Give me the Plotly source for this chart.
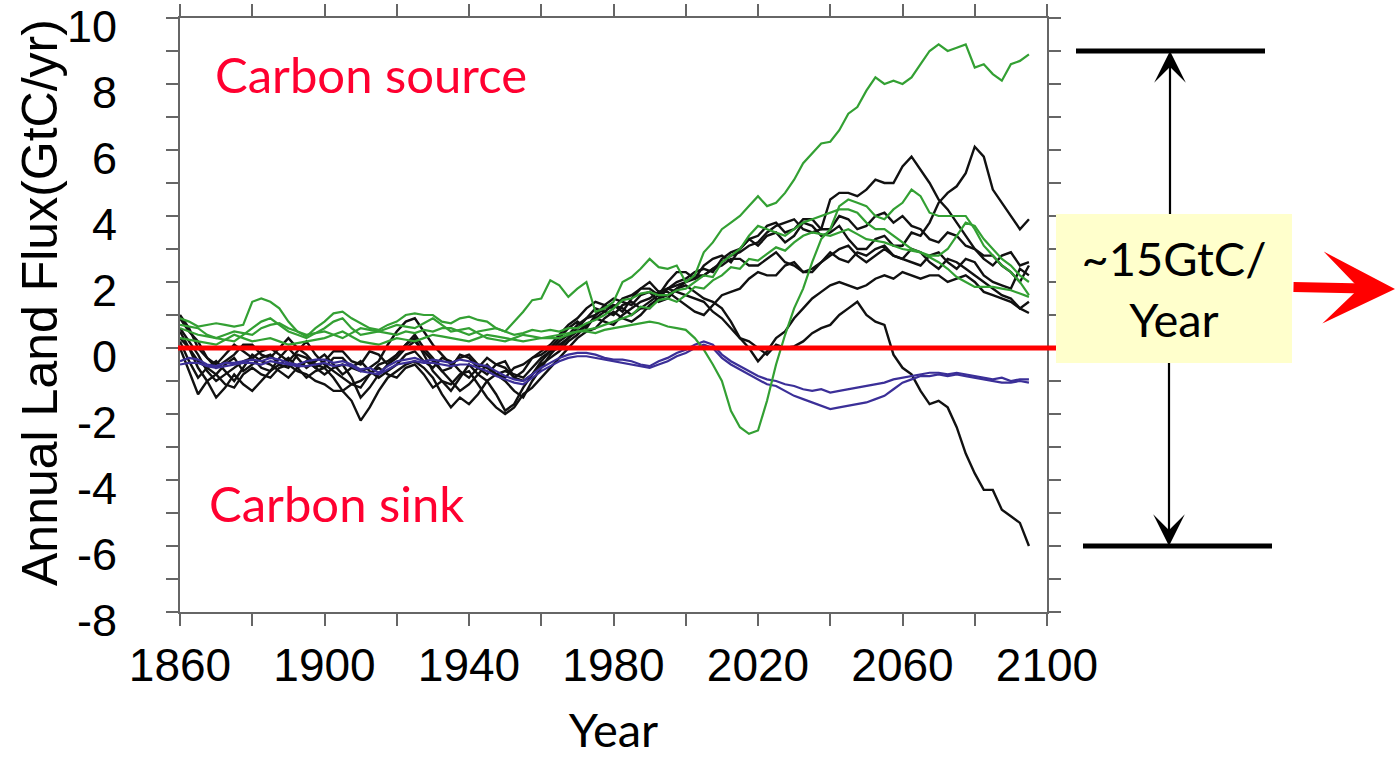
import plotly.graph_objects as go

# ---- data: annual land carbon flux (GtC/yr), sampled every 2.5 years ----
YEARS = [1860 + 2.5 * k for k in range(95)]  # 1860 ... 2095

# coupled models (black); each row covers 25 years
B1 = [0.3, 0.0, -0.4, -0.6, -0.8, -0.5, -0.3, -0.7, -0.5, -0.3,
      -0.2, -0.5, -0.6, -0.2, -0.3, -0.6, -0.4, -0.1, -0.1, -0.4,
      -0.5, -0.1, -0.2, -0.5, -0.3, 0.0, 0.2, -0.1, -0.4, -0.7,
      -0.6, -0.2, -0.3, -0.6, -0.8, -0.5, -0.4, -0.9, -0.7, -0.3,
      -0.2, 0.0, 0.3, 0.6, 0.8, 0.6, 1.0, 1.2, 1.3, 1.1,
      1.5, 1.8, 1.8, 1.6, 2.0, 2.3, 2.3, 2.1, 2.5, 2.7,
      2.8, 2.6, 3.0, 3.3, 3.1, 3.4, 3.5, 3.2, 3.4, 3.8,
      3.7, 3.4, 3.5, 3.7, 3.3, 3.0, 3.0, 3.3, 3.4, 3.1,
      3.1, 3.5, 3.4, 3.8, 4.4, 4.7, 4.9, 5.3, 6.1, 5.8,
      4.8, 4.4, 4.0, 3.6, 3.9]
B2 = [0.9, 0.5, 0.2, -0.3, -0.6, -0.4, -0.2, 0.1, 0.1, -0.2,
      -0.3, 0.0, 0.3, 0.0, -0.2, -0.5, -0.6, -0.3, -0.3, -0.6,
      -0.7, -0.6, -0.4, 0.1, 0.5, 0.8, 0.9, 0.5, 0.1, -0.2,
      -0.5, -0.3, -0.2, -0.5, -0.6, -0.8, -0.9, -0.6, -0.5, -0.3,
      -0.1, 0.1, 0.4, 0.7, 0.9, 1.2, 1.4, 1.3, 1.2, 1.5,
      1.6, 1.8, 2.0, 1.7, 1.8, 2.0, 2.1, 2.3, 2.4, 2.3,
      2.7, 2.9, 3.0, 3.3, 3.4, 3.7, 3.8, 3.5, 3.6, 3.9,
      3.9, 3.6, 3.6, 4.0, 3.9, 3.6, 3.7, 4.0, 4.1, 3.8,
      4.0, 3.7, 3.6, 3.3, 3.2, 3.5, 3.4, 3.1, 3.0, 2.7,
      2.5, 2.8, 2.9, 2.5, 2.6]
B3 = [0.0, -0.7, -1.4, -1.0, -0.8, -1.1, -1.2, -0.8, -0.6, -0.8,
      -0.9, -0.6, -0.5, -0.7, -0.8, -1.0, -1.1, -1.3, -1.3, -1.6,
      -2.2, -1.8, -1.3, -0.9, -0.7, -0.5, -0.4, -0.6, -0.9, -1.4,
      -1.8, -1.5, -1.7, -1.4, -1.0, -1.4, -1.9, -1.7, -1.2, -0.8,
      -0.4, -0.1, 0.2, 0.4, 0.7, 0.9, 1.0, 1.3, 1.5, 1.4,
      1.3, 1.6, 1.7, 1.4, 1.5, 1.8, 2.0, 2.2, 2.2, 2.4,
      2.5, 2.7, 2.7, 2.5, 2.5, 2.7, 2.9, 2.6, 2.5, 2.3,
      2.3, 2.6, 2.9, 2.7, 2.6, 2.9, 2.8, 3.0, 3.1, 2.8,
      2.7, 2.6, 2.5, 2.8, 2.9, 2.6, 2.4, 2.7, 2.6, 2.2,
      2.0, 1.9, 1.8, 2.4, 2.2]
B4 = [1.0, 0.6, 0.0, -0.3, -0.5, -0.2, 0.1, -0.1, -0.3, -0.6,
      -0.7, -0.3, 0.0, -0.3, -0.6, -0.4, -0.2, -0.5, -0.8, -0.6,
      -0.4, -0.7, -0.9, -0.7, -0.5, -0.2, -0.1, -0.4, -0.6, -0.3,
      -0.4, -0.7, -0.9, -0.6, -0.3, -0.5, -0.6, -0.9, -1.0, -0.8,
      -0.5, -0.3, -0.1, 0.2, 0.4, 0.7, 0.9, 0.8, 0.7, 1.0,
      1.2, 1.4, 1.5, 1.7, 1.7, 1.5, 1.3, 1.1, 1.0, 1.3,
      1.6, 1.7, 1.8, 2.1, 2.3, 2.2, 2.2, 2.5, 2.6, 2.3,
      2.4, 2.6, 2.8, 3.0, 3.1, 2.8, 2.6, 2.8, 3.0, 2.8,
      2.7, 3.0, 2.9, 2.6, 2.4, 2.7, 2.6, 2.4, 2.2, 2.0,
      1.8, 1.6, 1.5, 1.2, 1.4]
B5 = [0.6, 0.2, -0.2, -0.7, -1.0, -0.8, -0.6, -0.4, -0.3, -0.1,
      0.0, -0.2, -0.4, -0.1, 0.2, -0.2, -0.5, -0.7, -0.9, -1.1,
      -1.2, -0.8, -0.5, -0.4, -0.2, 0.1, 0.4, 0.0, -0.3, -0.7,
      -1.0, -1.3, -1.1, -0.8, -0.5, -0.8, -1.0, -1.3, -1.5, -1.0,
      -0.6, -0.2, 0.1, 0.3, 0.6, 0.9, 1.2, 1.1, 1.0, 1.3,
      1.4, 1.2, 1.2, 1.5, 1.8, 1.9, 2.0, 2.1, 2.2, 2.4,
      2.6, 2.8, 2.9, 3.1, 3.2, 3.5, 3.7, 3.8, 3.9, 3.6,
      3.5, 3.6, 4.5, 4.7, 4.7, 4.6, 4.8, 5.1, 5.0, 5.0,
      5.5, 5.8, 5.4, 5.0, 4.5, 4.2, 3.8, 3.4, 3.0, 2.8,
      2.8, 2.5, 2.3, 2.0, 2.5]
B6 = [0.5, 0.0, -0.6, -1.0, -1.5, -1.2, -0.8, -1.1, -1.3, -1.0,
      -0.7, -0.5, -0.3, -0.6, -0.9, -0.7, -0.6, -0.9, -1.3, -1.1,
      -1.0, -0.8, -0.6, -0.8, -0.9, -0.6, -0.5, -0.8, -1.2, -1.0,
      -1.1, -0.8, -0.7, -1.1, -1.5, -1.8, -2.0, -1.8, -1.4, -1.2,
      -0.9, -0.6, -0.3, 0.0, 0.3, 0.5, 0.6, 0.9, 1.1, 0.9,
      0.8, 1.0, 1.3, 1.5, 1.6, 1.8, 1.9, 1.7, 1.5, 1.4,
      1.2, 0.8, 0.3, 0.0, -0.4, -0.1, 0.3, 0.5, 0.9, 1.2,
      1.5, 1.7, 1.9, 2.0, 1.9, 1.8, 1.9, 2.1, 2.2, 2.1,
      2.3, 2.2, 2.1, 2.2, 2.2, 2.0, 2.1, 2.2, 2.0, 1.7,
      1.6, 1.5, 1.4, 1.2, 1.06]
B7 = [0.2, -0.4, -0.9, -0.6, -0.4, -0.7, -1.0, -0.6, -0.2, -0.4,
      -0.5, -0.7, -0.9, -0.6, -0.4, -0.6, -0.8, -0.6, -0.5, -0.9,
      -1.5, -1.2, -0.8, -0.5, -0.2, 0.1, 0.3, -0.2, -0.7, -1.0,
      -1.3, -0.9, -0.5, -0.8, -1.0, -0.8, -0.7, -0.8, -0.9, -0.6,
      -0.3, -0.1, 0.0, 0.3, 0.5, 0.7, 0.9, 1.1, 1.3, 1.2,
      1.0, 1.2, 1.4, 1.6, 1.8, 1.7, 1.6, 1.5, 1.4, 1.1,
      0.9, 0.6, 0.3, 0.2, 0.0, -0.2, 0.1, 0.0, 0.05, 0.2,
      0.45, 0.6, 0.7, 1.0, 1.2, 1.4, 1.0, 0.8, 0.7, -0.2,
      -0.6, -0.8, -1.3, -1.7, -1.6, -1.8, -2.4, -3.2, -3.8, -4.3,
      -4.3, -4.9, -5.1, -5.3, -6.0]

# models with dynamic vegetation (green)
G1 = [0.9, 0.8, 0.65, 0.7, 0.75, 0.7, 0.65, 0.7, 1.4, 1.5,
      1.4, 1.2, 0.8, 0.5, 0.35, 0.6, 0.8, 1.05, 1.1, 0.9,
      0.75, 0.6, 0.55, 0.7, 0.8, 1.0, 1.05, 1.0, 1.0, 0.8,
      0.75, 0.9, 0.95, 0.85, 0.8, 0.6, 0.5, 0.8, 1.1, 1.45,
      1.5, 2.05, 1.9, 1.55, 1.8, 2.0, 1.1, 1.2, 1.4, 2.0,
      2.15, 2.4, 2.7, 2.45, 2.4, 2.5, 2.0, 2.2, 2.9, 3.2,
      3.6, 3.8, 4.0, 4.3, 4.6, 4.3, 4.4, 4.7, 5.1, 5.6,
      5.9, 6.2, 6.25, 6.6, 7.1, 7.3, 7.8, 8.2, 8.0, 8.1,
      8.0, 8.2, 8.6, 9.0, 9.2, 9.0, 9.1, 9.2, 8.5, 8.6,
      8.3, 8.1, 8.6, 8.7, 8.9]
G2 = [0.6, 0.5, 0.4, 0.35, 0.3, 0.4, 0.5, 0.45, 0.4, 0.6,
      0.7, 0.75, 0.6, 0.5, 0.4, 0.45, 0.5, 0.4, 0.3, 0.45,
      0.6, 0.55, 0.5, 0.45, 0.4, 0.5, 0.45, 0.55, 0.5, 0.6,
      0.6, 0.5, 0.4, 0.5, 0.55, 0.6, 0.5, 0.4, 0.45, 0.55,
      0.5, 0.55, 0.5, 0.6, 0.6, 0.75, 0.85, 1.0, 1.2, 1.45,
      1.5, 1.65, 1.7, 1.6, 1.6, 1.75, 1.8, 2.0, 2.2, 2.15,
      2.6, 2.8, 3.0, 3.4, 3.7, 3.6, 3.5, 3.4, 3.6, 3.8,
      3.9, 4.0, 4.1, 4.2, 4.2, 4.1, 3.8, 3.6, 3.6, 3.4,
      3.2, 3.0, 2.9, 2.8, 2.8, 3.0, 3.4, 3.8, 3.7, 3.3,
      3.0, 2.7, 2.5, 2.2, 2.0]
G3 = [0.3, 0.25, 0.2, 0.15, 0.1, 0.25, 0.4, 0.3, 0.2, 0.25,
      0.3, 0.2, 0.1, 0.15, 0.2, 0.25, 0.3, 0.4, 0.5, 0.35,
      0.2, 0.15, 0.1, 0.2, 0.3, 0.25, 0.2, 0.3, 0.4, 0.35,
      0.3, 0.25, 0.2, 0.3, 0.4, 0.35, 0.3, 0.25, 0.2, 0.25,
      0.3, 0.35, 0.4, 0.45, 0.5, 0.5, 0.45, 0.55, 0.6, 0.65,
      0.7, 0.75, 0.8, 0.75, 0.65, 0.6, 0.55, 0.3, -0.05, -0.5,
      -1.0, -1.9, -2.4, -2.6, -2.5, -1.6, -0.5, 0.4, 1.2, 1.8,
      2.6, 3.3, 3.6, 4.3, 4.5, 4.4, 4.3, 4.0, 3.9, 4.2,
      4.4, 4.8, 4.6, 4.1, 4.0, 4.0, 4.0, 4.0, 3.6, 3.1,
      2.8, 2.5, 2.3, 2.0, 1.6]
G4 = [0.7, 0.65, 0.6, 0.4, 0.3, 0.25, 0.2, 0.4, 0.6, 0.8,
      0.9, 0.7, 0.5, 0.4, 0.3, 0.45, 0.6, 0.8, 0.9, 0.6,
      0.4, 0.45, 0.5, 0.6, 0.7, 0.65, 0.6, 0.75, 0.9, 0.7,
      0.5, 0.55, 0.6, 0.45, 0.3, 0.25, 0.2, 0.3, 0.4, 0.35,
      0.3, 0.3, 0.3, 0.4, 0.5, 0.55, 0.6, 0.7, 0.8, 0.9,
      1.0, 1.25, 1.2, 1.45, 1.5, 1.4, 1.6, 1.85, 1.8, 2.05,
      2.2, 2.45, 2.4, 2.7, 2.65, 2.85, 3.05, 2.95, 3.2, 3.4,
      3.5, 3.45, 3.4, 3.5, 3.6, 3.45, 3.3, 3.25, 3.2, 3.1,
      3.0, 2.95, 2.9, 2.75, 2.6, 2.4, 2.15, 2.0, 1.85, 1.85,
      1.85, 1.8, 1.75, 1.65, 1.55]

# offline land models (blue)
L1 = [-0.4, -0.3, -0.35, -0.5, -0.55, -0.45, -0.45, -0.4, -0.35, -0.4,
      -0.3, -0.35, -0.45, -0.5, -0.4, -0.35, -0.35, -0.45, -0.4, -0.5,
      -0.65, -0.6, -0.75, -0.55, -0.4, -0.35, -0.3, -0.4, -0.35, -0.4,
      -0.45, -0.35, -0.4, -0.5, -0.55, -0.7, -0.85, -0.95, -1.0, -0.8,
      -0.6, -0.45, -0.3, -0.2, -0.15, -0.15, -0.2, -0.3, -0.35, -0.35,
      -0.4, -0.5, -0.55, -0.4, -0.3, -0.15, -0.05, 0.1, 0.2, 0.1,
      -0.2, -0.4, -0.55, -0.7, -0.85, -0.95, -1.0, -1.1, -1.15, -1.25,
      -1.3, -1.25, -1.35, -1.3, -1.25, -1.2, -1.15, -1.1, -1.05, -0.95,
      -0.9, -0.85, -0.8, -0.75, -0.75, -0.8, -0.75, -0.8, -0.85, -0.9,
      -0.95, -0.9, -1.0, -0.95, -0.95]
L2 = [-0.5, -0.45, -0.45, -0.55, -0.6, -0.55, -0.5, -0.45, -0.45, -0.5,
      -0.4, -0.45, -0.5, -0.55, -0.55, -0.5, -0.45, -0.55, -0.5, -0.55,
      -0.7, -0.75, -0.8, -0.65, -0.5, -0.45, -0.4, -0.45, -0.45, -0.5,
      -0.55, -0.5, -0.5, -0.6, -0.7, -0.85, -0.95, -1.05, -1.1, -0.9,
      -0.7, -0.55, -0.4, -0.3, -0.25, -0.25, -0.3, -0.35, -0.4, -0.45,
      -0.5, -0.55, -0.6, -0.5, -0.4, -0.25, -0.15, 0.0, 0.1, 0.0,
      -0.3, -0.5, -0.65, -0.8, -0.95, -1.1, -1.15, -1.3, -1.45, -1.55,
      -1.65, -1.75, -1.85, -1.8, -1.75, -1.7, -1.65, -1.55, -1.45, -1.25,
      -1.05, -0.95, -0.85, -0.85, -0.8, -0.85, -0.8, -0.85, -0.9, -0.95,
      -1.0, -1.05, -1.05, -1.0, -1.05]

BLACK_SERIES = [B1, B2, B3, B4, B5, B6, B7]
BLUE_SERIES = [L1, L2]
GREEN_SERIES = [G1, G2, G3, G4]

X_RANGE = [1860, 2100]
Y_MIN, Y_MAX = -8, 10
Y_TICKS = list(range(-8, 11, 2))
X_TICKS = list(range(1860, 2101, 40))
BRACKET_TOP, BRACKET_BOTTOM = 9, -6

BLACK = "#111111"
GREEN = "#33a033"
BLUE = "#3b2f98"
RED = "#ff0000"
LABEL_RED = "#ff0030"
AXIS_GREY = "#666666"

# ---- page geometry ----
W, H = 1396, 757
M_L, M_R, M_T, M_B = 180, 349, 18, 145
PW, PH = W - M_L - M_R, H - M_T - M_B


def px_x(px):
    """horizontal page pixel -> paper coordinate"""
    return (px - M_L) / PW


def py_y(py):
    """vertical page pixel -> paper coordinate"""
    return (H - M_B - py) / PH


def val_y(v):
    """data value -> paper coordinate"""
    return (v - Y_MIN) / (Y_MAX - Y_MIN)


def val_px(v):
    """data value -> vertical page pixel"""
    return H - M_B - val_y(v) * PH


fig = go.Figure()
for s in BLACK_SERIES:
    fig.add_trace(go.Scatter(x=YEARS, y=s, mode="lines",
                             line=dict(color=BLACK, width=2.4), hoverinfo="skip"))
for s in BLUE_SERIES:
    fig.add_trace(go.Scatter(x=YEARS, y=s, mode="lines",
                             line=dict(color=BLUE, width=2.2), hoverinfo="skip"))
for s in GREEN_SERIES:
    fig.add_trace(go.Scatter(x=YEARS, y=s, mode="lines",
                             line=dict(color=GREEN, width=2.2), hoverinfo="skip"))

axis_common = dict(showline=True, linecolor=AXIS_GREY, linewidth=2, mirror="ticks",
                   ticks="outside", ticklen=12, tickwidth=2, tickcolor=AXIS_GREY,
                   showgrid=False, zeroline=False, automargin=False,
                   ticklabeloverflow="allow")

fig.update_xaxes(range=X_RANGE, tickmode="array", tickvals=X_TICKS,
                 ticktext=[str(t) for t in X_TICKS], ticklabelstandoff=0,
                 tickfont=dict(family="Liberation Sans, Arial, sans-serif", size=46, color="black"),
                 minor=dict(dtick=20, tick0=1860, ticks="outside", ticklen=12,
                            tickwidth=2, tickcolor=AXIS_GREY),
                 title=dict(text="Year", standoff=25,
                            font=dict(family="Lato, sans-serif", size=47, color="black")),
                 **axis_common)
fig.update_yaxes(range=[Y_MIN, Y_MAX], tickmode="array", tickvals=Y_TICKS,
                 ticktext=[str(t) for t in Y_TICKS], ticklabelstandoff=40,
                 ticklabelshift=8,
                 tickfont=dict(family="Liberation Sans, Arial, sans-serif", size=45, color="black"),
                 minor=dict(dtick=1, tick0=0, ticks="outside", ticklen=12,
                            tickwidth=2, tickcolor=AXIS_GREY),
                 **axis_common)

shapes = [
    # zero-flux line running up to the callout box
    dict(type="line", xref="paper", yref="paper", x0=px_x(178), x1=px_x(1056),
         y0=val_y(0), y1=val_y(0), line=dict(color=RED, width=5), layer="above"),
    # bracket bars at the range extremes
    dict(type="line", xref="paper", yref="paper", x0=px_x(1076), x1=px_x(1265),
         y0=val_y(BRACKET_TOP), y1=val_y(BRACKET_TOP), line=dict(color="black", width=5)),
    dict(type="line", xref="paper", yref="paper", x0=px_x(1083), x1=px_x(1272),
         y0=val_y(BRACKET_BOTTOM), y1=val_y(BRACKET_BOTTOM), line=dict(color="black", width=5)),
]

BOX_CY = 288.5  # vertical centre of the callout box, page pixels
label_font = dict(family="Lato, sans-serif", size=49, color=LABEL_RED)
arrow_common = dict(text=" ", xref="paper", yref="paper", showarrow=True, ax=0,
                    axref="pixel", ayref="pixel", arrowhead=3, arrowsize=2.4,
                    arrowwidth=2.2, arrowcolor="black", standoff=0, font=dict(size=1))

annotations = [
    dict(text="Carbon source", xref="x", yref="y", x=1869, y=8.3, xanchor="left",
         yanchor="middle", showarrow=False, font=label_font),
    dict(text="Carbon sink", xref="x", yref="y", x=1867.5, y=-4.7, xanchor="left",
         yanchor="middle", showarrow=False, font=label_font),
    dict(text="Annual Land Flux(GtC/yr)", xref="paper", yref="paper", x=px_x(40),
         y=py_y(303), textangle=-90, showarrow=False, xanchor="center", yanchor="middle",
         font=dict(family="Liberation Sans, Arial, sans-serif", size=50, color="black")),
    # two-way arrow spanning the bracket (drawn from the box centre outward)
    dict(x=px_x(1170), y=val_y(BRACKET_TOP), ay=BOX_CY - val_px(BRACKET_TOP), **arrow_common),
    dict(x=px_x(1169), y=val_y(BRACKET_BOTTOM), ay=BOX_CY - val_px(BRACKET_BOTTOM), **arrow_common),
    # red pointer to the right
    dict(text=" ", xref="paper", yref="paper", x=px_x(1400), y=py_y(289),
         ax=-108, ay=-2, axref="pixel", ayref="pixel", showarrow=True,
         arrowhead=3, arrowsize=1.2, arrowwidth=10, arrowcolor=RED, standoff=0,
         font=dict(size=1)),
    # callout box
    dict(text="~15GtC/<br>Year", xref="paper", yref="paper", x=px_x(1174), y=py_y(BOX_CY),
         xanchor="center", yanchor="middle", showarrow=False, bgcolor="#ffffcc",
         width=236, height=149, borderpad=0, borderwidth=0,
         font=dict(family="Lato, sans-serif", size=47, color="black")),
]

fig.update_layout(
    width=W, height=H,
    margin=dict(l=M_L, r=M_R, t=M_T, b=M_B),
    paper_bgcolor="white", plot_bgcolor="white",
    showlegend=False,
    shapes=shapes,
    annotations=annotations,
)

fig.write_html("out.html")
